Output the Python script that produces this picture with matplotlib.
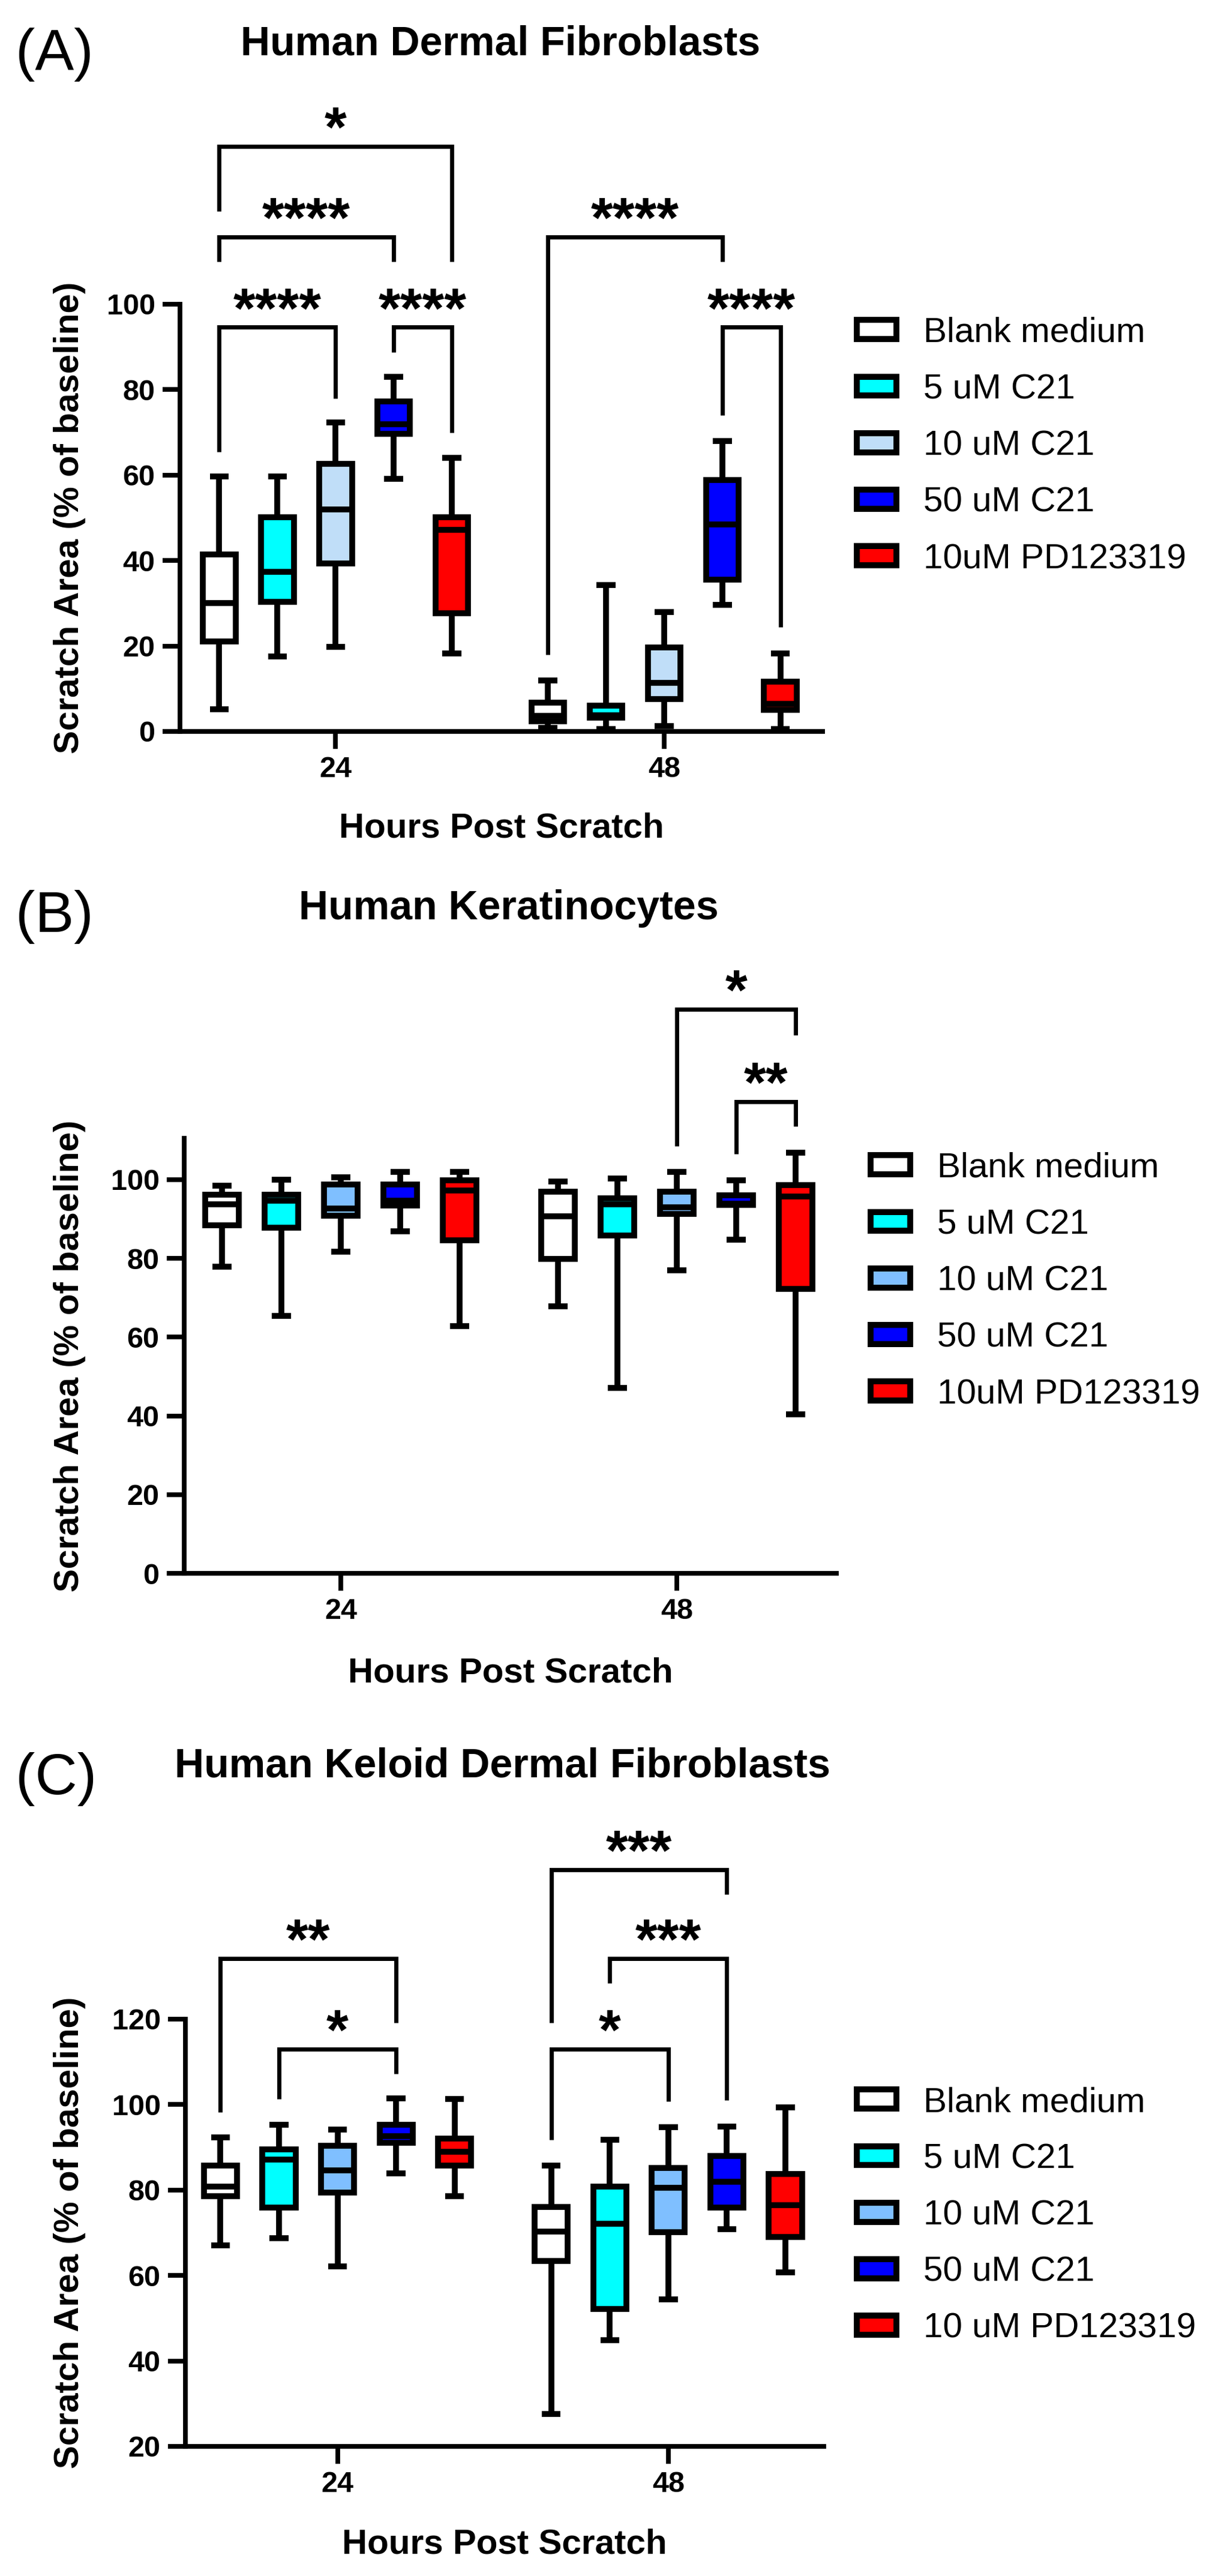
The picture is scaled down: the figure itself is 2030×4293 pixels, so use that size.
import matplotlib
matplotlib.use('Agg')
import matplotlib.pyplot as plt
from matplotlib.patches import Patch

plt.rcParams['font.family'] = ['Liberation Sans', 'DejaVu Sans']

# ---- data ----
hours = ['24', '48']
labels_ab = ['Blank medium', '5 uM C21', '10 uM C21', '50 uM C21', '10uM PD123319']
labels_c = ['Blank medium', '5 uM C21', '10 uM C21', '50 uM C21', '10 uM PD123319']

# order: 24h (blank, 5, 10, 50, PD), then 48h (same)
a_lo = [5.2, 17.5, 19.8, 59.1, 18.3, 0.9, 0.6, 1.3, 29.7, 0.6]
a_q1 = [21.0, 30.3, 39.3, 69.6, 27.7, 2.4, 3.3, 7.6, 35.5, 5.1]
a_med = [30.0, 37.3, 51.9, 71.9, 47.2, 3.6, 3.8, 11.4, 48.4, 6.4]
a_q3 = [41.4, 50.1, 62.7, 77.3, 50.1, 6.8, 6.1, 19.7, 58.9, 11.6]
a_hi = [59.7, 59.7, 72.3, 83.0, 64.1, 11.9, 34.3, 28.0, 68.0, 18.3]

b_lo = [77.9, 65.4, 81.7, 86.9, 62.8, 67.9, 47.1, 77.0, 84.8, 40.4]
b_q1 = [88.4, 87.8, 90.9, 93.4, 84.6, 79.9, 85.8, 91.3, 93.6, 72.3]
b_med = [93.7, 94.7, 92.6, 94.7, 97.2, 90.7, 93.8, 93.0, 93.9, 95.7]
b_q3 = [96.2, 96.2, 98.7, 98.7, 99.8, 97.0, 95.3, 97.0, 96.0, 98.6]
b_hi = [98.5, 100.0, 100.6, 101.9, 102.0, 99.5, 100.3, 102.0, 99.9, 106.9]

c_lo = [67.1, 68.8, 62.2, 83.9, 78.5, 27.6, 44.8, 54.4, 70.9, 60.7]
c_q1 = [78.5, 75.9, 79.4, 91.0, 85.7, 63.4, 52.2, 70.1, 75.9, 69.0]
c_med = [80.8, 87.2, 84.6, 92.6, 88.9, 70.3, 72.1, 80.6, 82.0, 76.5]
c_q3 = [85.7, 89.5, 90.3, 95.3, 92.0, 76.1, 80.8, 85.2, 88.0, 83.7]
c_hi = [92.4, 95.3, 94.1, 101.4, 101.3, 85.7, 91.8, 94.7, 94.9, 99.4]

# significance brackets: (box i, box j, top, left leg end, right leg end, label)
a_sig = [(0, 4, 137, 121.8, 110, '*'),
         (0, 3, 115.7, 110, 110, '****'),
         (0, 2, 94.6, 65.5, 78, '****'),
         (3, 4, 94.6, 88.8, 70, '****'),
         (5, 8, 115.7, 18, 110, '****'),
         (8, 9, 94.6, 74, 24.5, '****')]
b_sig = [(7, 9, 143.3, 108.5, 136.7, '*'),
         (8, 9, 119.8, 106.5, 113.6, '**')]
c_sig = [(0, 3, 134.2, 98.2, 119.1, '**'),
         (1, 3, 113, 101.3, 107.2, '*'),
         (5, 8, 155, 119.1, 149.2, '***'),
         (6, 8, 134.2, 128.4, 101.1, '***'),
         (5, 7, 113, 91.8, 100.7, '*')]

colors_a = ['white', '#00FFFF', '#C0DEF8', '#0000FF', '#FF0000']
colors_bc = ['white', '#00FFFF', '#7FBFFF', '#0000FF', '#FF0000']

W, H = 2030, 4293
fig = plt.figure(figsize=(W / 200, H / 200), dpi=200)


def fx(px):
    return px / W


def fy(py):
    return 1 - py / H


def panel(rect, lo, q1, med, q3, hi, colors, sig, labels, ylim, yticks,
          xlim, title, title_xy, tag, tag_y, xlab_y, leg_xy):
    left, top, right, bottom = rect
    ax = fig.add_axes([fx(left), fy(bottom), fx(right - left), (bottom - top) / H])
    step = 0.177
    pos = [g + (i - 2) * step for g in range(2) for i in range(5)]
    stats = [dict(whislo=lo[k], q1=q1[k], med=med[k], q3=q3[k], whishi=hi[k])
             for k in range(len(lo))]
    lw = 3.5
    res = ax.bxp(stats, positions=pos, widths=0.1, capwidths=0.057,
                 showfliers=False, patch_artist=True,
                 boxprops=dict(linewidth=lw, edgecolor='black'),
                 whiskerprops=dict(linewidth=lw, color='black', solid_capstyle='butt'),
                 capprops=dict(linewidth=lw, color='black', solid_capstyle='butt'),
                 medianprops=dict(linewidth=lw, color='black', solid_capstyle='butt'))
    for k, b in enumerate(res['boxes']):
        b.set_facecolor(colors[k % 5])
        b.set_joinstyle('miter')

    for i, j, tp, l1, l2, s in sig:
        x1, x2 = pos[i], pos[j]
        ax.plot([x1, x1, x2, x2], [l1, tp, tp, l2], color='black', lw=2.5,
                clip_on=False, solid_joinstyle='miter', solid_capstyle='butt')
        ax.text((x1 + x2) / 2, tp, s, ha='center', va='baseline', fontsize=34,
                fontweight='bold', clip_on=False)

    ax.set_xlim(xlim)
    ax.set_ylim(ylim)
    ax.set_yticks(yticks)
    ax.set_xticks([0, 1])
    ax.set_xticklabels(hours)
    for sp in ['top', 'right']:
        ax.spines[sp].set_visible(False)
    for sp in ['left', 'bottom']:
        ax.spines[sp].set_linewidth(2.8)
    ax.tick_params(width=2.8, length=10.4, pad=4.5, labelsize=17.5)
    for t in ax.get_xticklabels() + ax.get_yticklabels():
        t.set_fontweight('bold')

    cx = fx((left + right) / 2)
    fig.text(fx(title_xy[0]), fy(title_xy[1]), title, ha='center', va='baseline',
             fontsize=24.5, fontweight='bold')
    fig.text(fx(26), fy(tag_y), tag, ha='left', va='baseline', fontsize=35)
    fig.text(cx, fy(xlab_y), 'Hours Post Scratch', ha='center', va='baseline',
             fontsize=21, fontweight='bold')
    fig.text(fx(116), fy((top + bottom) / 2), 'Scratch Area (% of baseline)',
             rotation=90, ha='center', va='center', fontsize=21, fontweight='bold')

    handles = [Patch(facecolor=c, edgecolor='black', linewidth=3.6) for c in colors]
    ax.legend(handles, labels, loc='upper left', bbox_to_anchor=(fx(leg_xy[0]), fy(leg_xy[1])),
              bbox_transform=fig.transFigure, frameon=False, fontsize=21,
              handlelength=1.13, handleheight=0.46, handletextpad=0.77,
              labelspacing=0.69, borderpad=0, borderaxespad=0)
    return ax


panel((300, 507, 1371, 1219), a_lo, a_q1, a_med, a_q3, a_hi, colors_a, a_sig,
      labels_ab, (0, 100), [0, 20, 40, 60, 80, 100], (-0.473, 1.482),
      'Human Dermal Fibroblasts', (834, 91), '(A)', 116, 1395, (1428, 528))

panel((307, 1897, 1394, 2622), b_lo, b_q1, b_med, b_q3, b_hi, colors_bc, b_sig,
      labels_ab, (0, 110.5), [0, 20, 40, 60, 80, 100], (-0.466, 1.475),
      'Human Keratinocytes', (848, 1532), '(B)', 1553, 2803, (1451, 1920))

panel((309, 3365, 1373, 4077), c_lo, c_q1, c_med, c_q3, c_hi, colors_bc, c_sig,
      labels_c, (20, 120), [20, 40, 60, 80, 100, 120], (-0.46, 1.47),
      'Human Keloid Dermal Fibroblasts', (837, 2961), '(C)', 2990, 4256, (1428, 3477))

fig.savefig('out.png', dpi=200)
